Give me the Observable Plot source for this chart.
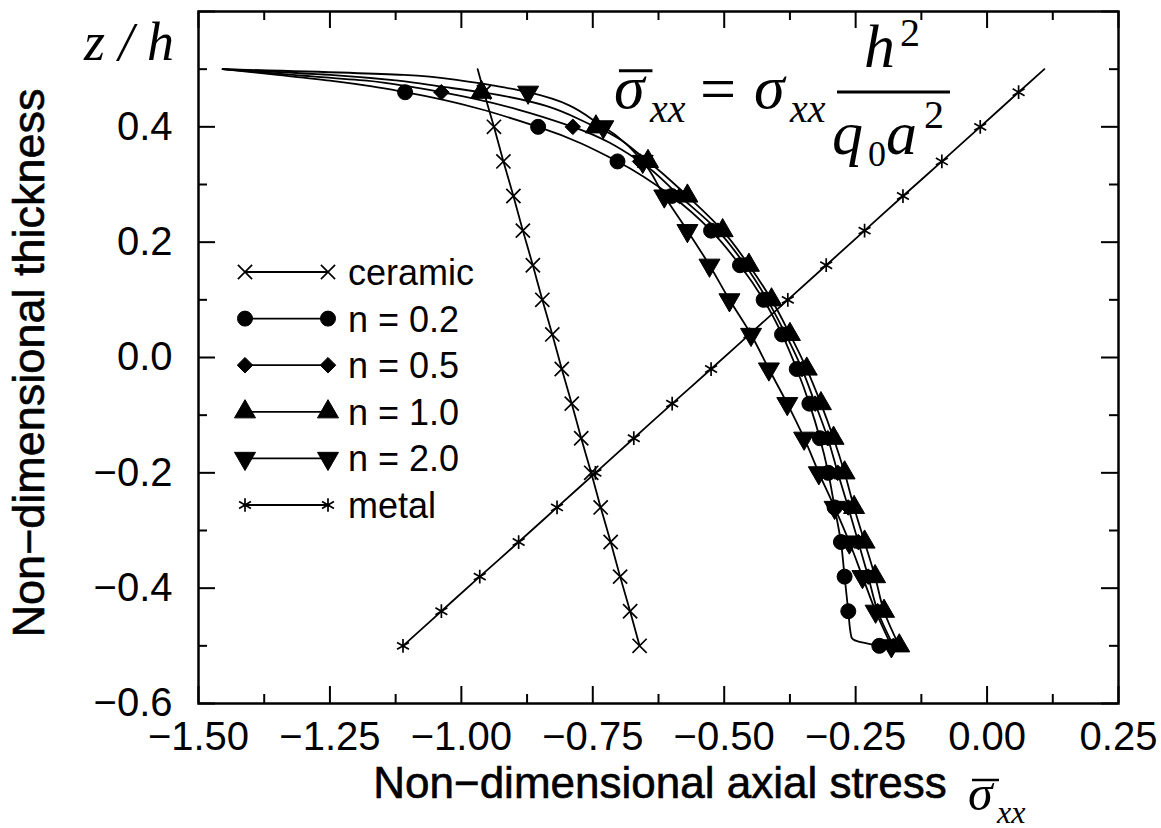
<!DOCTYPE html>
<html><head><meta charset="utf-8">
<script src="https://cdn.jsdelivr.net/npm/d3@7"></script>
<script src="https://cdn.jsdelivr.net/npm/@observablehq/plot@0.6"></script>
<style>body{margin:0;background:#fff} #chart{width:1161px;height:828px}</style>
</head><body><div id="chart"></div>
<script>
// ---- tick values ----
const xMajor = [-1.5, -1.25, -1, -0.75, -0.5, -0.25, 0, 0.25];
const xMinor = [-1.375, -1.125, -0.875, -0.625, -0.375, -0.125, 0.125];
const yMajor = [-0.6, -0.4, -0.2, 0, 0.2, 0.4, 0.6];
const yMinor = [-0.5, -0.3, -0.1, 0.1, 0.3, 0.5];
const yLabels = [-0.6, -0.4, -0.2, 0, 0.2, 0.4];

// ---- marker levels (z/h) ----
const zGrid = [0.46, 0.40, 0.34, 0.28, 0.22, 0.16, 0.10, 0.04, -0.02, -0.08, -0.14, -0.20, -0.26, -0.32, -0.38, -0.44, -0.50];

// ---- series values at the marker levels ----
const ceramic = [-0.957, -0.938, -0.920, -0.901, -0.883, -0.864, -0.846, -0.827, -0.809, -0.790, -0.772, -0.753, -0.735, -0.716, -0.698, -0.679, -0.661];
const n02 = [-1.107, -0.854, -0.703, -0.600, -0.525, -0.470, -0.425, -0.390, -0.362, -0.338, -0.318, -0.302, -0.290, -0.278, -0.271, -0.264, -0.205];
const n05 = [-1.038, -0.788, -0.660, -0.585, -0.512, -0.460, -0.418, -0.383, -0.352, -0.327, -0.303, -0.284, -0.264, -0.245, -0.226, -0.208, -0.178];
const n10 = [-0.962, -0.744, -0.645, -0.570, -0.503, -0.453, -0.410, -0.375, -0.343, -0.316, -0.292, -0.271, -0.253, -0.233, -0.213, -0.196, -0.167];
const n20 = [-0.873, -0.730, -0.655, -0.614, -0.570, -0.528, -0.490, -0.449, -0.415, -0.380, -0.348, -0.320, -0.290, -0.262, -0.237, -0.212, -0.182];
const metal = [0.060, -0.013, -0.086, -0.160, -0.233, -0.306, -0.379, -0.452, -0.525, -0.599, -0.672, -0.745, -0.818, -0.891, -0.965, -1.038, -1.111];

// ---- extra line points near the top surface (no markers) ----
const zTopCM = [0.5];
const ceramicTop = [-0.969];
const metalTop = [0.109];
const zTopFG = [0.5, 0.49, 0.48, 0.47];
const n02Top = [-1.454, -1.35, -1.25, -1.17];
const n05Top = [-1.454, -1.32, -1.18, -1.10];
const n10Top = [-1.454, -1.25, -1.12, -1.04];
const n20Top = [-1.454, -1.11, -1.00, -0.93];
// n = 0.2 bend near the bottom surface
const zKink = [-0.485, -0.492, -0.497];
const n02Kink = [-0.258, -0.247, -0.222];

const labels = ["ceramic", "n = 0.2", "n = 0.5", "n = 1.0", "n = 2.0", "metal"];

const series = [
  {name: labels[0], grid: ceramic, zt: zTopCM, top: ceramicTop, symbol: "times", filled: false, r: 6.5},
  {name: labels[1], grid: n02, zt: zTopFG, top: n02Top, zk: zKink, kink: n02Kink, symbol: "circle", filled: true, r: 7.5},
  {name: labels[2], grid: n05, zt: zTopFG, top: n05Top, symbol: "diamond2", filled: true, r: 7},
  {name: labels[3], grid: n10, zt: zTopFG, top: n10Top, symbol: "triangle", filled: true, r: 7.8},
  {name: labels[4], grid: n20, zt: zTopFG, top: n20Top, symbol: "triangle", filled: true, r: 7.8, rotate: 180},
  {name: labels[5], grid: metal, zt: zTopCM, top: metalTop, symbol: "asterisk", filled: false, r: 6.5}
];

const lineRows = [];
const dotRows = [];
for (const s of series) {
  const pts = [];
  s.zt.forEach((z, i) => pts.push({series: s.name, z, x: s.top[i]}));
  zGrid.forEach((z, i) => {
    const p = {series: s.name, z, x: s.grid[i]};
    pts.push(p); dotRows.push(p);
  });
  if (s.zk) s.zk.forEach((z, i) => pts.push({series: s.name, z, x: s.kink[i]}));
  pts.sort((a, b) => b.z - a.z);
  lineRows.push(...pts);
}

const W = 1161, H = 828, mL = 198, mR = 43, mT = 11, mB = 125;
const innerW = W - mL - mR, innerH = H - mT - mB;
const fmtX = d3.format(".2f"), fmtY = d3.format(".1f");

const dotMarks = series.map(s => Plot.dot(dotRows.filter(d => d.series === s.name), {
  x: "x", y: "z", symbol: s.symbol, r: s.r,
  fill: s.filled ? "#000" : "none",
  stroke: "#000", strokeWidth: s.filled ? 1 : 1.7,
  rotate: s.rotate || 0
}));

const plot = Plot.plot({
  width: W, height: H,
  marginLeft: mL, marginRight: mR, marginTop: mT, marginBottom: mB,
  x: {domain: [-1.5, 0.25]},
  y: {domain: [-0.6, 0.6]},
  style: {fontFamily: "'Liberation Sans', Arial, sans-serif", fontSize: "40px", color: "#000", background: "#fff", overflow: "visible"},
  marks: [
    Plot.tickX(xMajor, {x: d => d, insetTop: innerH - 17, strokeWidth: 2}),
    Plot.tickX(xMinor, {x: d => d, insetTop: innerH - 9, strokeWidth: 2}),
    Plot.tickX(xMajor, {x: d => d, insetBottom: innerH - 17, strokeWidth: 2}),
    Plot.tickX(xMinor, {x: d => d, insetBottom: innerH - 9, strokeWidth: 2}),
    Plot.tickY(yMajor, {y: d => d, insetRight: innerW - 17, strokeWidth: 2}),
    Plot.tickY(yMinor, {y: d => d, insetRight: innerW - 9, strokeWidth: 2}),
    Plot.tickY(yMajor, {y: d => d, insetLeft: innerW - 17, strokeWidth: 2}),
    Plot.tickY(yMinor, {y: d => d, insetLeft: innerW - 9, strokeWidth: 2}),
    Plot.frame({stroke: "#000", strokeWidth: 2.5}),
    Plot.axisX(xMajor, {tickSize: 0, tickPadding: 18, tickFormat: fmtX, label: null, fontSize: 40, stroke: "#000", strokeWidth: 0.7}),
    Plot.axisY(yLabels, {tickSize: 0, tickPadding: 26, tickFormat: fmtY, label: null, fontSize: 40, stroke: "#000", strokeWidth: 0.7}),
    Plot.line(lineRows, {x: "x", y: "z", z: "series", curve: "monotone-y", stroke: "#000", strokeWidth: 1.8}),
    ...dotMarks
  ]
});
document.getElementById("chart").appendChild(plot);

// ---- annotations: axis titles, formula, legend ----
const svg = d3.select(plot);
const serif = "'Liberation Serif', 'Times New Roman', serif";

svg.append("text")
  .attr("transform", "translate(44,363) rotate(-90)")
  .attr("text-anchor", "middle").attr("font-size", 45).attr("fill", "#000")
  .attr("stroke", "#000").attr("stroke-width", 0.6)
  .text("Non\u2212dimensional thickness");

svg.append("text")
  .attr("x", 660).attr("y", 798).attr("text-anchor", "middle")
  .attr("font-size", 44).attr("fill", "#000")
  .attr("stroke", "#000").attr("stroke-width", 0.6)
  .text("Non\u2212dimensional axial stress");

function txt(g, x, y, size, s, italic, anchor) {
  return g.append("text").attr("x", x).attr("y", y).attr("text-anchor", anchor || "start")
    .attr("font-family", serif).attr("font-style", italic ? "italic" : "normal")
    .attr("font-size", size).attr("fill", "#000").text(s);
}
function sigmaBar(g, x, y, size, subSize, subDy, bar) {
  txt(g, x, y, size, "\u03c3", true);
  if (bar) g.append("line").attr("x1", x + size * 0.08).attr("x2", x + size * 0.62)
    .attr("y1", y - size * 0.6).attr("y2", y - size * 0.6).attr("stroke", "#000").attr("stroke-width", size * 0.05);
  txt(g, x + size * 0.58, y + subDy, subSize, "xx", true);
}
const ann = svg.append("g");
sigmaBar(ann, 968, 810, 50, 32, 13, true);
// z / h
txt(ann, 174, 60, 54, "z / h", true, "end");
// formula
sigmaBar(ann, 614, 108, 62, 40, 14, true);
txt(ann, 700, 110, 64, "=", false);
sigmaBar(ann, 754, 108, 62, 40, 14, false);
ann.append("line").attr("x1", 837).attr("x2", 950).attr("y1", 92).attr("y2", 92).attr("stroke", "#000").attr("stroke-width", 3);
txt(ann, 864, 67, 62, "h", true);
txt(ann, 900, 46, 40, "2", false);
txt(ann, 832, 154, 62, "q", true);
txt(ann, 868, 166, 36, "0", false);
txt(ann, 886, 154, 62, "a", true);
txt(ann, 924, 128, 40, "2", false);

// legend
const symMap = {times: d3.symbolTimes, circle: d3.symbolCircle, diamond2: d3.symbolDiamond2, triangle: d3.symbolTriangle, asterisk: d3.symbolAsterisk};
const leg = svg.append("g");
series.forEach((s, i) => {
  const cy = 272 + i * 46.6;
  leg.append("line").attr("x1", 245).attr("x2", 328).attr("y1", cy).attr("y2", cy).attr("stroke", "#000").attr("stroke-width", 1.8);
  const path = d3.symbol(symMap[s.symbol], Math.PI * s.r * s.r)();
  [245, 328].forEach(cx => {
    leg.append("path").attr("d", path)
      .attr("transform", `translate(${cx},${cy}) rotate(${s.rotate || 0})`)
      .attr("fill", s.filled ? "#000" : "none").attr("stroke", "#000").attr("stroke-width", s.filled ? 1 : 1.7);
  });
  leg.append("text").attr("x", 348).attr("y", cy + 13).attr("text-anchor", "start")
    .attr("font-size", 36).attr("fill", "#000").text(s.name);
});
</script>
</body></html>
